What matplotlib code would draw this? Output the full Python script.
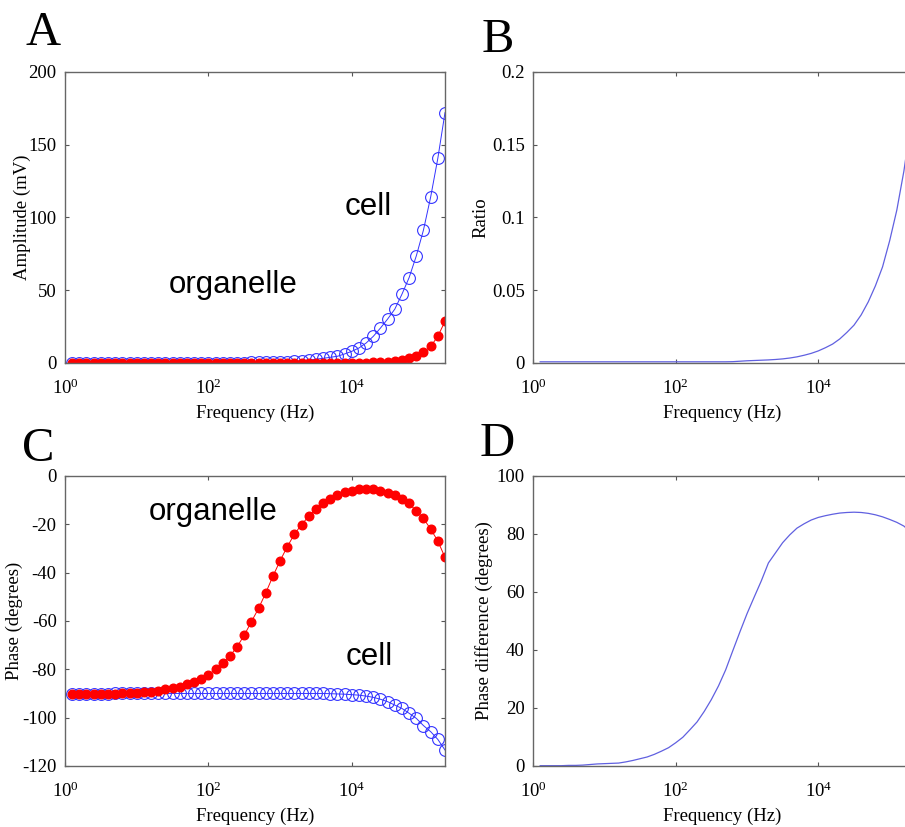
import numpy as np
import matplotlib
matplotlib.use("Agg")
import matplotlib.pyplot as plt
from matplotlib.ticker import FixedLocator, NullLocator, FixedFormatter

plt.rcParams['font.family'] = ['Liberation Serif', 'DejaVu Serif']
plt.rcParams['mathtext.fontset'] = 'custom'
plt.rcParams['mathtext.rm'] = 'Liberation Serif'
plt.rcParams['mathtext.it'] = 'Liberation Serif'

# frequency grid, 10 points per decade (10^0.1 ... 10^5.3 Hz)
freq = np.logspace(0.1, 5.3, 53)

# A - amplitude (mV)
amp_cell = [0.0, 0.0, 0.0, 0.0, 0.0, 0.0, 0.0, 0.0, 0.0, 0.0,
            0.0, 0.0, 0.0, 0.0, 0.0, 0.0, 0.0, 0.0, 0.1, 0.1,
            0.1, 0.15, 0.2, 0.25, 0.3, 0.35, 0.4, 0.5, 0.6, 0.8,
            1.0, 1.3, 1.6, 2.0, 2.6, 3.2, 3.9, 4.6, 6.2, 8.0,
            10.3, 13.7, 18.3, 24.0, 30.2, 37.0, 47.3, 58.7, 73.6, 91.4,
            114.0, 140.6, 172.0]
amp_org = [0.0, 0.0, 0.0, 0.0, 0.0, 0.0, 0.0, 0.0, 0.0, 0.0,
           0.0, 0.0, 0.0, 0.0, 0.0, 0.0, 0.0, 0.0, 0.0, 0.0,
           0.0, 0.0, 0.0, 0.0, 0.0, 0.0, 0.0, 0.0, 0.0, 0.0,
           0.0, 0.0, 0.0, 0.0, 0.02, 0.03, 0.04, 0.05, 0.07, 0.1,
           0.15, 0.25, 0.4, 0.6, 1.0, 1.5, 2.2, 3.4, 5.0, 7.5,
           11.4, 18.3, 28.6]

# B - amplitude ratio organelle / cell
ratio = [0.0008, 0.0008, 0.0008, 0.0008, 0.0008, 0.0008, 0.0008, 0.0008, 0.0008, 0.0008,
         0.0008, 0.0008, 0.0008, 0.0008, 0.0008, 0.0008, 0.0008, 0.0008, 0.0008, 0.0008,
         0.0008, 0.0008, 0.0008, 0.0008, 0.0008, 0.0008, 0.0008, 0.0009, 0.0012, 0.0015,
         0.0017, 0.0019, 0.0021, 0.0024, 0.0028, 0.0034, 0.0042, 0.0053, 0.0066, 0.0083,
         0.0105, 0.013, 0.0165, 0.021, 0.026, 0.033, 0.042, 0.053, 0.066, 0.084,
         0.105, 0.132, 0.166]

# C - phase (degrees)
phase_cell = [-90.2, -90.2, -90.2, -90.1, -90.1, -90.1, -90.0, -90.0, -90.0, -90.0,
              -90.0, -90.0, -90.0, -90.0, -90.0, -90.0, -90.0, -90.0, -90.0, -90.0,
              -90.0, -90.0, -90.0, -90.0, -90.0, -90.0, -90.0, -90.0, -90.0, -90.0,
              -90.0, -90.0, -90.0, -90.0, -90.0, -90.0, -90.1, -90.2, -90.3, -90.5,
              -90.7, -91.1, -91.6, -92.4, -93.4, -94.8, -96.2, -98.2, -100.3, -103.3,
              -105.8, -109.0, -113.4]
phase_org = [-90.3, -90.3, -90.2, -90.2, -90.1, -90.1, -90.1, -90.0, -89.9, -89.7,
             -89.5, -89.2, -88.8, -88.3, -87.9, -87.2, -86.1, -85.2, -84.2, -82.4,
             -79.9, -77.3, -74.5, -70.7, -65.9, -60.3, -54.8, -48.4, -41.5, -35.1,
             -29.3, -24.1, -20.1, -16.7, -13.5, -11.2, -9.4, -8.0, -6.6, -6.2,
             -5.6, -5.5, -5.6, -6.2, -7.0, -8.0, -9.4, -11.4, -14.5, -17.6,
             -22.0, -26.9, -33.7]

# D - phase difference (degrees)
phase_diff = [0.1, 0.1, 0.1, 0.1, 0.2, 0.2, 0.3, 0.5, 0.7, 0.8,
              0.9, 1.0, 1.4, 1.9, 2.5, 3.1, 4.0, 5.1, 6.3, 8.0,
              9.9, 12.5, 15.2, 18.8, 22.9, 27.6, 33.1, 39.7, 46.2, 52.5,
              58.2, 63.8, 70.0, 73.5, 77.0, 79.7, 82.0, 83.5, 84.8, 85.7,
              86.3, 86.8, 87.2, 87.4, 87.5, 87.4, 87.1, 86.6, 85.9, 85.0,
              84.0, 82.7, 80.5]

fs = 13.5
blue = '#3333ff'
red = '#ff0000'
line_blue = '#6060e0'

fig = plt.figure(figsize=(9.05, 8.27), dpi=100)

def style_axes(ax, yticks, ylabels, ylim, ylabel, ylab_x):
    ax.set_xscale('log')
    ax.set_xlim(1, 10 ** 5.3)
    ax.set_ylim(*ylim)
    ax.xaxis.set_major_locator(FixedLocator([1, 1e2, 1e4]))
    ax.xaxis.set_major_formatter(FixedFormatter(['$10^{0}$', '$10^{2}$', '$10^{4}$']))
    ax.xaxis.set_minor_locator(NullLocator())
    ax.yaxis.set_major_locator(FixedLocator(yticks))
    ax.yaxis.set_major_formatter(FixedFormatter(ylabels))
    ax.tick_params(direction='in', top=True, right=True, length=3, width=0.8,
                   color='#555555', labelsize=fs)
    ax.tick_params(axis='x', pad=11)
    ax.tick_params(axis='y', pad=6)
    for s in ax.spines.values():
        s.set_color('#666666')
        s.set_linewidth(1.0)
    ax.set_xlabel('Frequency (Hz)', fontsize=fs, labelpad=5)
    ax.set_ylabel(ylabel, fontsize=fs)
    ax.yaxis.set_label_coords(ylab_x, 0.5)

# A
axA = fig.add_axes([0.0718, 0.5611, 0.4199, 0.3519])
axA.plot(freq, amp_cell, '-o', color=blue, lw=0.7, ms=8.5, mfc='none', mec=blue, mew=0.8)
axA.plot(freq, amp_org, '-o', color=red, lw=0.7, ms=6.2, mfc=red, mec=red)
style_axes(axA, [0, 50, 100, 150, 200], ['0', '50', '100', '150', '200'], (0, 200),
           'Amplitude (mV)', -0.09)
axA.text(28, 48, 'organelle', family='Liberation Sans', fontsize=22.5, va='baseline')
axA.text(8000, 102, 'cell', family='Liberation Sans', fontsize=22.5, va='baseline')

# B
axB = fig.add_axes([0.5890, 0.5611, 0.4177, 0.3519])
axB.plot(freq, ratio, '-', color=line_blue, lw=0.9)
style_axes(axB, [0, 0.05, 0.1, 0.15, 0.2], ['0', '0.05', '0.1', '0.15', '0.2'], (0, 0.2),
           'Ratio', -0.114)

# C
axC = fig.add_axes([0.0718, 0.0738, 0.4199, 0.3507])
axC.plot(freq, phase_cell, '-o', color=blue, lw=0.7, ms=8.5, mfc='none', mec=blue, mew=0.8)
axC.plot(freq, phase_org, '-o', color=red, lw=0.7, ms=6.2, mfc=red, mec=red)
style_axes(axC, [-120, -100, -80, -60, -40, -20, 0],
           ['-120', '-100', '-80', '-60', '-40', '-20', '0'], (-120, 0),
           'Phase (degrees)', -0.11)
axC.text(14.8, -18.3, 'organelle', family='Liberation Sans', fontsize=22.5, va='baseline')
axC.text(8300, -78.3, 'cell', family='Liberation Sans', fontsize=22.5, va='baseline')

# D
axD = fig.add_axes([0.5890, 0.0738, 0.4177, 0.3507])
axD.plot(freq, phase_diff, '-', color=line_blue, lw=0.9)
style_axes(axD, [0, 20, 40, 60, 80, 100], ['0', '20', '40', '60', '80', '100'], (0, 100),
           'Phase difference (degrees)', -0.106)

# panel letters
for lbl, x, y in [('A', 25, 45), ('B', 482, 52), ('C', 22, 461), ('D', 480, 456)]:
    fig.text(x / 905, 1 - y / 827, lbl, fontsize=35, va='baseline', ha='left')

fig.savefig('out.png', dpi=100)
